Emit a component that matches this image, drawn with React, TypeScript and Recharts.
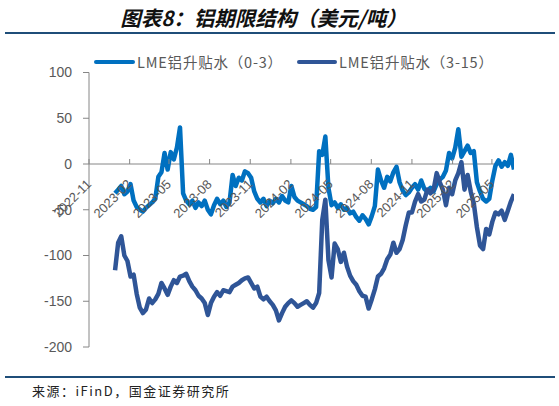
import React from "react";
import { LineChart, Line, XAxis, YAxis, ReferenceLine } from "recharts";

// weekly observations, first one on startDate
const startDate = "2022-12-30";
const axisStart = "2022-11-01";

const spread03 = [
  -32, -28, -24, -33, -30, -22, -40, -47, -50, -52,
  -48, -45, -42, -38, -14, -9, 12, -6, 13, 5,
  18, 40, -32, -40, -44, -40, -48, -42, -46, -40,
  -50, -55, -45, -38, -44, -40, -47, -42, -12, -24,
  -15, -18, -8, -10, -15, -30, -38, -42, -38, -46,
  -40, -43, -38, -42, -35, -40, -42, -24, -36, -40,
  -42, -44, -46, -49, -50, -47, 14, 10, 30, -26,
  -45, -42, -48, -44, -50, -48, -54, -52, -58, -62,
  -56, -60, -66, -57, -46, -6, -18, -26, -14, -19,
  -9, -3, -20, -29, -34, -31, -26, -22, -28, -18,
  -27, -30, -26, -30, -22, -17, -14, -7, 12, 6,
  18, 38, 8, 14, 20, 12, 14, -20, -30, -38,
  -41, -38, -18, -2, 4, -3, 2, -2, 10, -6,
];

const spread315 = [
  -116, -86, -79, -100, -106, -123, -121, -142, -157, -163,
  -159, -147, -152, -148, -142, -130, -136, -143, -134, -127,
  -130, -123, -122, -120, -128, -134, -138, -144, -147, -152,
  -165, -152, -145, -140, -144, -138, -139, -140, -134, -132,
  -130, -127, -125, -124, -130, -136, -134, -145, -148, -145,
  -150, -154, -160, -171, -163, -156, -152, -149, -152, -156,
  -154, -152, -150, -154, -157, -152, -141, -61, -39, -105,
  -124, -87, -93, -107, -97, -112, -122, -128, -132, -139,
  -144, -145, -158, -148, -137, -123, -120, -114, -104, -99,
  -86, -97, -93, -83, -67, -53, -53, -41, -33, -41,
  -39, -28, -32, -28, -10, -20, -28, -45, -26, -33,
  -18, -10, 2, -28, -12, -30, -43, -69, -89, -93,
  -71, -77, -63, -53, -55, -51, -61, -51, -41, -33,
];

const tickLabels = [
  "2022-11", "2023-02", "2023-05", "2023-08", "2023-11", "2024-02",
  "2024-05", "2024-08", "2024-11", "2025-02", "2025-05",
];
const yTicks = [-200, -150, -100, -50, 0, 50, 100];

const DAY = 86400000;
const dayOf = (s: string) => (Date.parse(s + "T00:00:00Z") - Date.parse(axisStart + "T00:00:00Z")) / DAY;
const t0 = dayOf(startDate);

const data = spread03.map((v, i) => ({
  t: t0 + i * 7,
  a: v,
  b: spread315[i],
}));
const xTicks = tickLabels.map((l) => dayOf(l + "-01"));
const labelOf: Record<number, string> = {};
xTicks.forEach((d, i) => (labelOf[d] = tickLabels[i]));

const W = 559;
const H = 360;
const TOP = 72.5;
const BOTTOM = 347;
const ZERO_Y = TOP + ((BOTTOM - TOP) * 100) / 300;
const GRAY = "#595959";
const AXIS = "#868686";
const FONT = '"Liberation Sans", Arial, "Noto Sans CJK SC", sans-serif';
const CJK = '"Noto Sans CJK SC", sans-serif';

const XTick = (props: any) => {
  const { x, payload } = props;
  const lx = x + 3;
  const ly = ZERO_Y + 21;
  return (
    <g>
      <line x1={x} x2={x} y1={ZERO_Y} y2={ZERO_Y - 5} stroke={AXIS} />
      <text
        x={lx}
        y={ly}
        textAnchor="end"
        fill={GRAY}
        fontSize={13}
        fontFamily={FONT}
        transform={`rotate(-45, ${lx}, ${ly})`}
      >
        {labelOf[payload.value]}
      </text>
    </g>
  );
};

const legendText = {
  position: "absolute" as const,
  top: 51,
  fontSize: 14.5,
  letterSpacing: 0.8,
  fontFamily: CJK,
  color: GRAY,
  lineHeight: "21px",
  whiteSpace: "nowrap" as const,
};

export default function App() {
  return (
    <div style={{ position: "absolute", left: 0, top: 0, width: W, height: 406, background: "#fff", fontFamily: FONT }}>
      <div
        style={{
          position: "absolute",
          top: 4,
          left: -16,
          width: W,
          textAlign: "center",
          fontFamily: CJK,
          fontWeight: 700,
          fontStyle: "italic",
          fontSize: 20.5,
          color: "#111",
          lineHeight: "26px",
        }}
      >
        图表8：铝期限结构（美元/吨）
      </div>
      <div style={{ position: "absolute", top: 32, left: 5, width: 550, height: 2, background: "#1f4e79" }} />

      <div style={{ position: "absolute", top: 60, left: 94, width: 41, height: 4, borderRadius: 2, background: "#0070c0" }} />
      <div style={{ ...legendText, left: 137 }}>LME铝升贴水（0-3）</div>
      <div style={{ position: "absolute", top: 60, left: 297, width: 40, height: 4, borderRadius: 2, background: "#2f5597" }} />
      <div style={{ ...legendText, left: 339 }}>LME铝升贴水（3-15）</div>

      <div style={{ position: "absolute", top: 0, left: 0 }}>
        <LineChart width={W} height={H} data={data} margin={{ top: TOP, right: 45, bottom: H - BOTTOM - 1, left: 0 }}>
          <XAxis
            dataKey="t"
            type="number"
            domain={[0, data[data.length - 1].t]}
            ticks={xTicks}
            allowDataOverflow
            axisLine={false}
            tickLine={false}
            height={1}
            tick={<XTick />}
            interval={0}
          />
          <YAxis
            domain={[-200, 100]}
            ticks={yTicks}
            width={89}
            axisLine={{ stroke: AXIS }}
            tickLine={{ stroke: AXIS }}
            tickSize={6}
            tickMargin={11}
            tick={{ fill: GRAY, fontSize: 14, fontFamily: FONT }}
            allowDataOverflow
          />
          <ReferenceLine y={0} stroke={AXIS} />
          <Line
            dataKey="a"
            type="linear"
            stroke="#0070c0"
            strokeWidth={4.5}
            strokeLinejoin="round"
            dot={false}
            isAnimationActive={false}
          />
          <Line
            dataKey="b"
            type="linear"
            stroke="#2f5597"
            strokeWidth={4.5}
            strokeLinejoin="round"
            dot={false}
            isAnimationActive={false}
          />
        </LineChart>
      </div>

      <div style={{ position: "absolute", top: 376, left: 5, width: 550, height: 2, background: "#1f4e79" }} />
      <div
        style={{
          position: "absolute",
          top: 382,
          left: 32,
          fontSize: 13,
          letterSpacing: 1.5,
          color: "#222",
          fontFamily: CJK,
          lineHeight: "18px",
        }}
      >
        来源：iFinD，国金证券研究所
      </div>
    </div>
  );
}
